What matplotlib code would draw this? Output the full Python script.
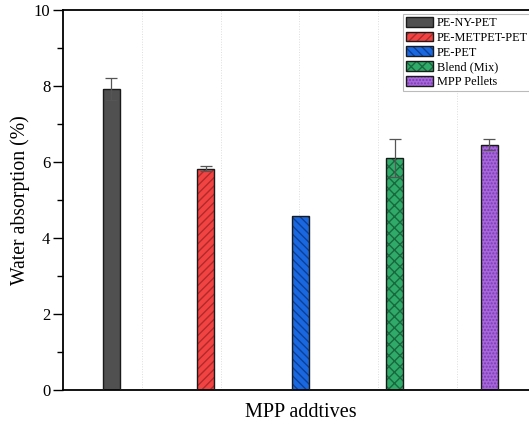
import matplotlib
matplotlib.use('Agg')
import matplotlib.pyplot as plt
import numpy as np
from matplotlib.patches import Patch
from matplotlib.legend_handler import HandlerTuple
from matplotlib.ticker import MultipleLocator

plt.rcParams['font.family'] = ['Liberation Serif', 'DejaVu Serif']

# Data
labels = ['PE-NY-PET', 'PE-METPET-PET', 'PE-PET', 'Blend (Mix)', 'MPP Pellets']
values = [7.92, 5.82, 4.58, 6.10, 6.46]
errors = [0.28, 0.07, 0.0, 0.50, 0.14]

colors = ['#505050', '#f24343', '#1a68e0', '#2faa68', '#a866dc']
hatch_colors = ['#505050', '#b02a2a', '#0c3f96', '#19693e', '#7a3fb0']
hatches = ['', '////', '\\\\\\\\', 'xxx', '.....']

fig = plt.figure(figsize=(5.29, 4.23), dpi=100)
ax = fig.add_axes([63 / 529, 33 / 423, 1 - 63 / 529, 380 / 423])

x = np.arange(1, len(values) + 1)
width = 0.18
handles = []
for i in range(len(values)):
    # hatched fill, then a dark outline on top
    ax.bar(x[i], values[i], width, color=colors[i], hatch=hatches[i],
           edgecolor=hatch_colors[i], linewidth=0, zorder=2)
    ax.bar(x[i], values[i], width, fill=False, edgecolor='#1a1a1a',
           linewidth=1.0, zorder=3)
    handles.append((Patch(facecolor=colors[i], hatch=hatches[i],
                          edgecolor=hatch_colors[i], linewidth=0),
                    Patch(fill=False, edgecolor='#1a1a1a', linewidth=1.0)))
    if errors[i] > 0:
        ax.errorbar(x[i], values[i], yerr=errors[i], fmt='none', ecolor='#555555',
                    elinewidth=0.9, capsize=4, capthick=0.9, zorder=4)

xmin, xmax = 0.487, 5.418
ax.set_xlim(xmin, xmax)
ax.set_ylim(0, 10)
ax.yaxis.set_major_locator(MultipleLocator(2))
ax.yaxis.set_minor_locator(MultipleLocator(1))
ax.set_xticks([])
ax.set_xticks(xmin + np.arange(1, 6) * 5 / 6, minor=True)
ax.tick_params(axis='x', which='minor', length=0)
ax.grid(which='minor', axis='x', linestyle=':', color='#dddddd', linewidth=0.7, zorder=0)
ax.tick_params(axis='y', which='major', direction='out', length=7, width=1.0,
               labelsize=12, pad=2)
ax.tick_params(axis='y', which='minor', direction='out', length=4, width=1.0)

for side in ['left', 'bottom', 'top']:
    ax.spines[side].set_linewidth(1.3)
ax.spines['right'].set_visible(False)

ax.set_ylabel('Water absorption (%)', fontsize=14.2, labelpad=3)
ax.set_xlabel('MPP addtives', fontsize=14.5, labelpad=7)
ax.xaxis.set_label_coords(0.51, -0.035, transform=ax.transAxes)
ax.xaxis.label.set_va('top')

leg = ax.legend(handles, labels, handler_map={tuple: HandlerTuple(ndivide=1, pad=0)},
                loc='upper left', bbox_to_anchor=(0.73, 0.99), fontsize=8.8,
                frameon=True, fancybox=False, edgecolor='#aaaaaa',
                handlelength=2.2, handleheight=0.85, labelspacing=0.22,
                handletextpad=0.3, borderpad=0.25, borderaxespad=0)
leg.get_frame().set_linewidth(0.8)

fig.savefig('out.png', dpi=100)
